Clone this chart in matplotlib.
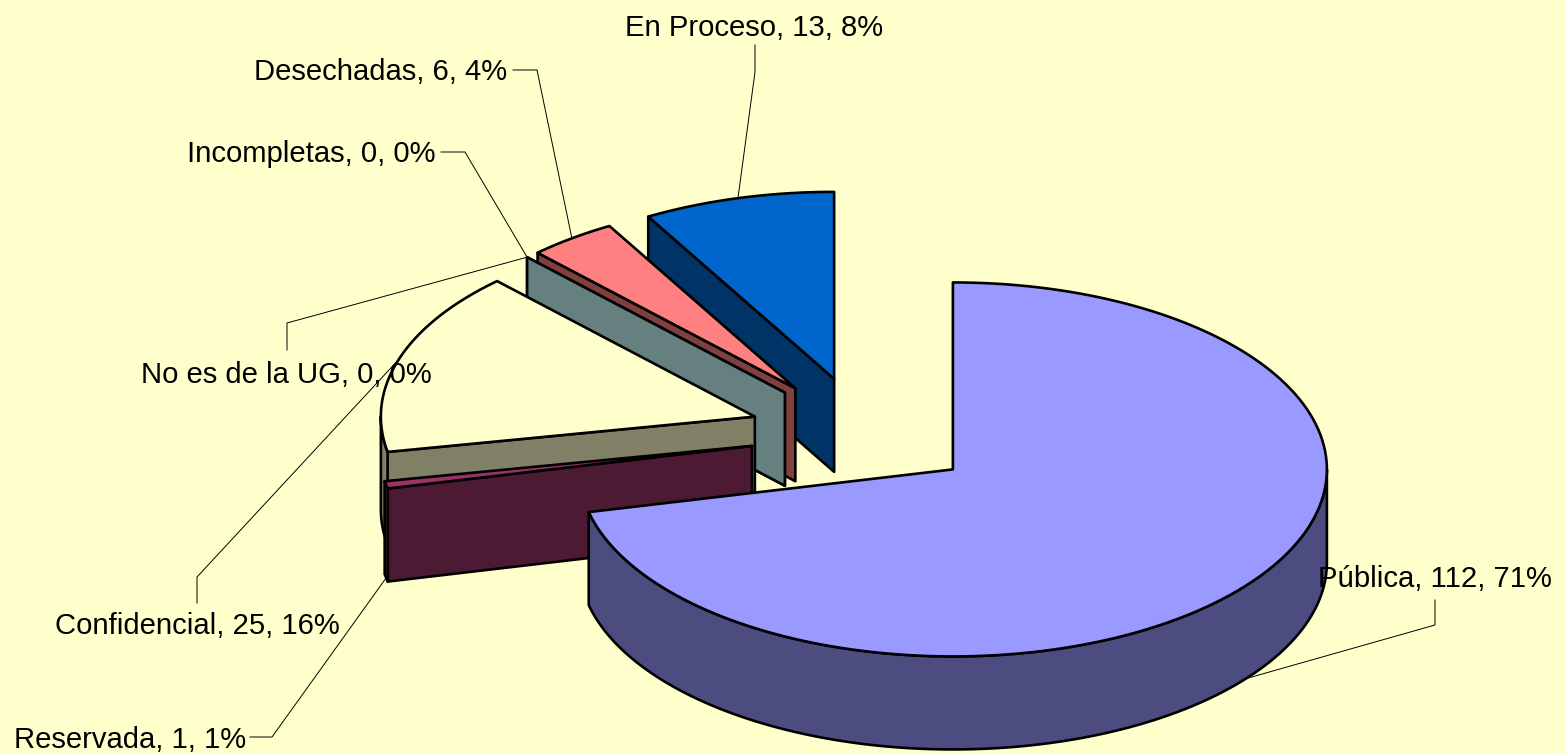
"""
Exploded 3D pie of requests by classification, drawn on a pixel-sized axes.
"""
import numpy as np
import matplotlib
matplotlib.use('Agg')
import matplotlib.pyplot as plt

categories = ['Pública', 'Reservada', 'Confidencial', 'No es de la UG', 'Incompletas', 'Desechadas', 'En Proceso']
values = [112, 1, 25, 0, 0, 6, 13]
percents = [71, 1, 16, 0, 0, 4, 8]

top_colors = ['#9999FF', '#993366', '#FFFFCC', '#CCFFFF', '#CCFFFF', '#FF8080', '#0066CC']
side_colors = ['#4C4C80', '#4C1A33', '#808066', '#668080', '#668080', '#804040', '#003366']
background = '#FFFFCC'

# Pie geometry in pixels
center_x, center_y = 863.5, 434
radius_x, radius_y = 374, 187
depth = 93
explode = 0.305
edge_width = 1.9

# Label layout: text anchor and the leader elbow points, by category
text_pos = [(1318, 579, 'left'), (14, 740, 'left'), (55, 626, 'left'), (141, 375, 'left'),
            (187, 154, 'left'), (254, 72, 'left'), (625, 28, 'left')]
elbows = [
    [(1435, 625), (1435, 600)],
    [(272, 737), (250, 737)],
    [(197, 577), (197, 603)],
    [(287, 323), (287, 350)],
    [(465, 152), (441, 152)],
    [(537, 70), (513, 70)],
    [(755, 72), (755, 45)],
]


def point(cx, cy, angle):
    """Point on the top ellipse, angle in degrees clockwise from 12 o'clock."""
    a = np.radians(angle)
    return cx + radius_x * np.sin(a), cy - radius_y * np.cos(a)


def arc(cx, cy, start, end, count=160):
    return point(cx, cy, np.linspace(start, end, count))


def draw_slice(ax, start, end, top, side):
    mid = np.radians((start + end) / 2)
    cx = center_x + explode * radius_x * np.sin(mid)
    cy = center_y - explode * radius_y * np.cos(mid)
    style = dict(edgecolor='black', linewidth=edge_width, joinstyle='round')

    # Walls: only the start wall faces the viewer on the left half
    if start > 180:
        sx, sy = point(cx, cy, start)
        ax.fill([cx, sx, sx, cx], [cy, sy, sy + depth, cy + depth], facecolor=side, **style)

    # Outer rim, only the lower half of the ellipse is visible
    low, high = max(start, 90), min(end, 270)
    if low < high:
        rx, ry = arc(cx, cy, low, high)
        ax.fill(np.r_[rx, rx[::-1]], np.r_[ry, ry[::-1] + depth], facecolor=side, **style)

    # Top face
    if end > start:
        tx, ty = arc(cx, cy, start, end)
        ax.fill(np.r_[cx, tx], np.r_[cy, ty], facecolor=top, **style)
    return cx, cy


def main():
    fig = plt.figure(figsize=(15.66, 7.54), dpi=100, facecolor=background)
    ax = fig.add_axes([0, 0, 1, 1])
    ax.set_xlim(0, 1566)
    ax.set_ylim(754, 0)
    ax.axis('off')

    angles = np.r_[0, np.cumsum(values)] * 360 / sum(values)

    # Back slices are painted first
    centers = {}
    for i in reversed(range(len(values))):
        centers[i] = draw_slice(ax, angles[i], angles[i + 1], top_colors[i], side_colors[i])

    for i, name in enumerate(categories):
        mid = (angles[i] + angles[i + 1]) / 2
        ax_x, ax_y = point(*centers[i], mid)
        if 90 < mid < 270:
            ax_y += depth
        xs = [ax_x] + [p[0] for p in elbows[i]]
        ys = [ax_y] + [p[1] for p in elbows[i]]
        ax.plot(xs, ys, color='black', linewidth=0.7, zorder=5)
        x, y, ha = text_pos[i]
        ax.text(x, y, f'{name}, {values[i]}, {percents[i]}%', ha=ha, va='center',
                fontsize=21.1, family='Liberation Sans', color='black', zorder=6)

    fig.savefig('out.png', dpi=100, facecolor=background)


if __name__ == "__main__":
    main()
